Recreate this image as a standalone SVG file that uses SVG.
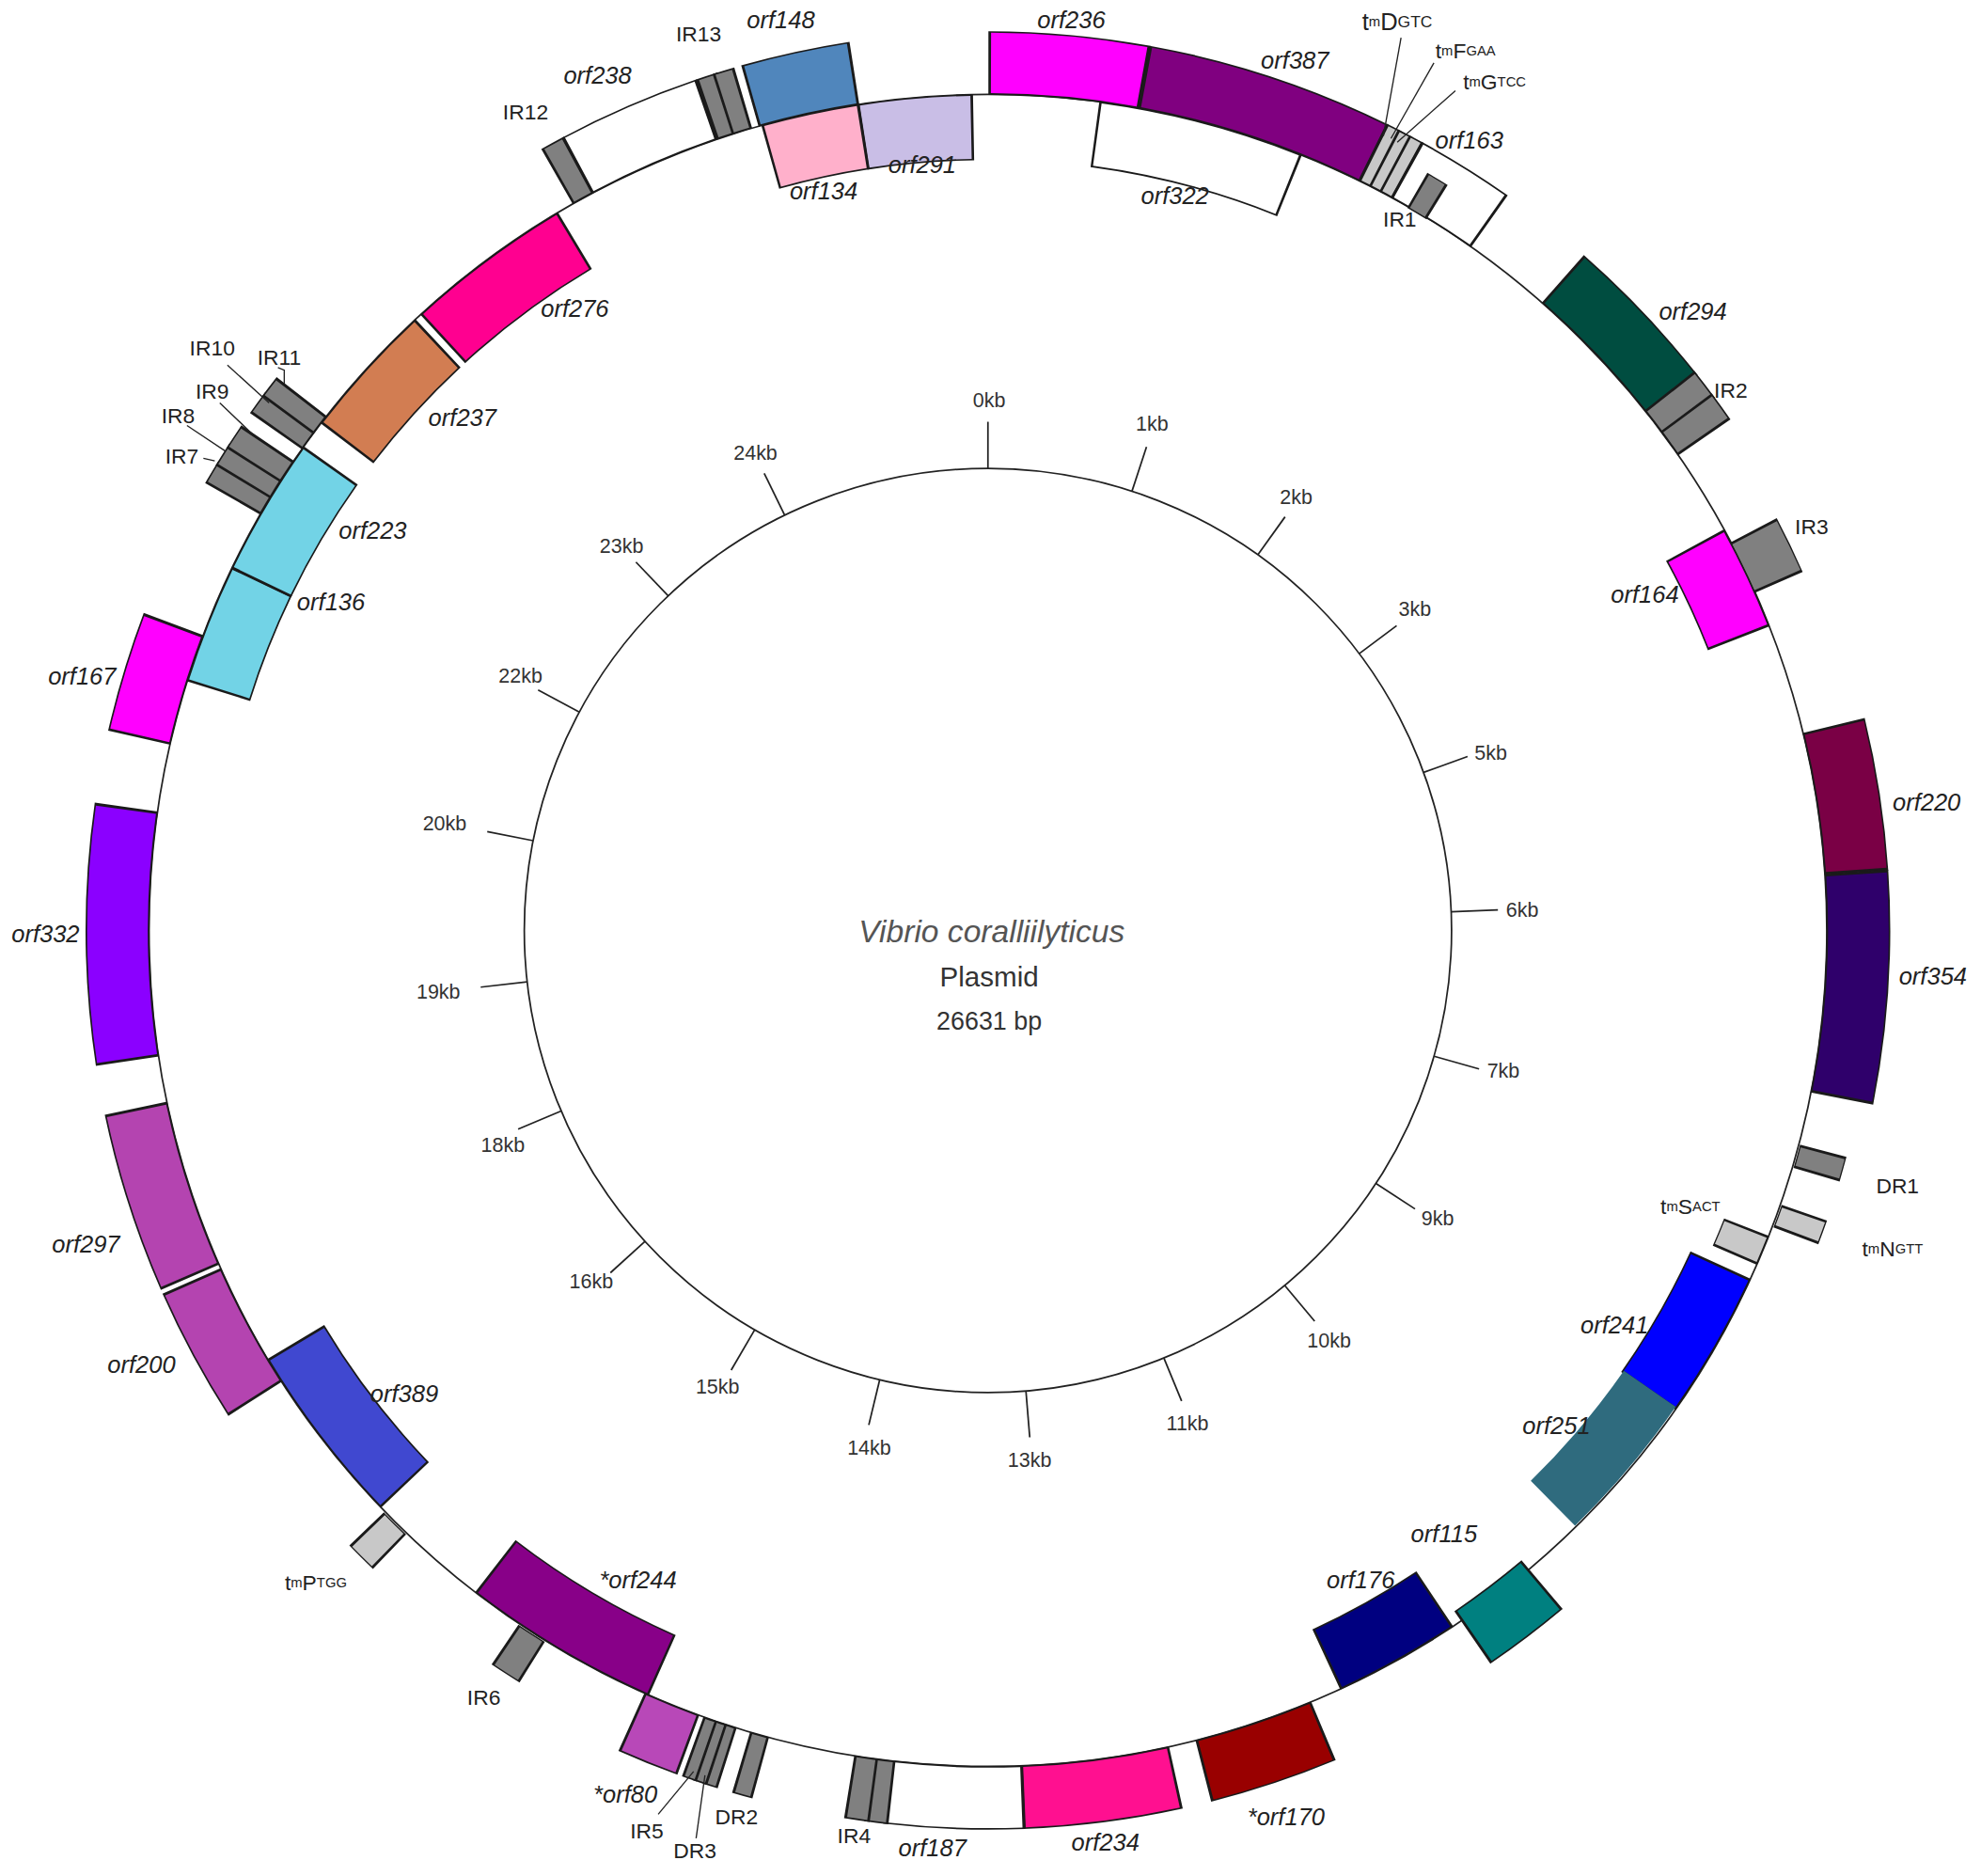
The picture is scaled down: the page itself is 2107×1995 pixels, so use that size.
<svg xmlns="http://www.w3.org/2000/svg" width="2107" height="1995" viewBox="0 0 2107 1995">
<style>
circle{fill:none}
.k{stroke:#1a1a1a}
.o{stroke-width:48}
.ok{stroke-width:50.5}
.i{stroke-width:50}
.ik{stroke-width:52.5}
.base{stroke:#222;stroke-width:1.3}
.tick{stroke:#222;stroke-width:1.3}
.lead{stroke:#222;stroke-width:1;fill:none}
.lab{font-family:"Liberation Sans",Arial,sans-serif;font-style:italic;font-size:19px;fill:#222;text-anchor:middle;dominant-baseline:central}
.ir{font-family:"Liberation Sans",Arial,sans-serif;font-size:17px;fill:#222;text-anchor:middle;dominant-baseline:central}
.kb{font-family:"Liberation Sans",Arial,sans-serif;font-size:16px;fill:#333;text-anchor:middle;dominant-baseline:central}
.sm{font-size:11px}
</style>
<rect width="2107" height="1995" fill="#fff"/>
<g transform="scale(1.3437,1.3389)">
<g transform="translate(782,739)">
<g id="backbone">
<circle class="base" r="664"/>
<circle class="base" r="367"/>
</g>
<g id="ticks">
<line class="tick" x1="0" y1="-367" x2="0" y2="-404"/>
<g transform="rotate(18.1)"><line class="tick" x1="0" y1="-367" x2="0" y2="-404"/></g>
<g transform="rotate(35.6)"><line class="tick" x1="0" y1="-367" x2="0" y2="-404"/></g>
<g transform="rotate(53.2)"><line class="tick" x1="0" y1="-367" x2="0" y2="-404"/></g>
<g transform="rotate(70)"><line class="tick" x1="0" y1="-367" x2="0" y2="-404"/></g>
<g transform="rotate(87.7)"><line class="tick" x1="0" y1="-367" x2="0" y2="-404"/></g>
<g transform="rotate(105.8)"><line class="tick" x1="0" y1="-367" x2="0" y2="-404"/></g>
<g transform="rotate(123.2)"><line class="tick" x1="0" y1="-367" x2="0" y2="-404"/></g>
<g transform="rotate(140.2)"><line class="tick" x1="0" y1="-367" x2="0" y2="-404"/></g>
<g transform="rotate(157.7)"><line class="tick" x1="0" y1="-367" x2="0" y2="-404"/></g>
<g transform="rotate(175.3)"><line class="tick" x1="0" y1="-367" x2="0" y2="-404"/></g>
<g transform="rotate(193.5)"><line class="tick" x1="0" y1="-367" x2="0" y2="-404"/></g>
<g transform="rotate(210.2)"><line class="tick" x1="0" y1="-367" x2="0" y2="-404"/></g>
<g transform="rotate(227.7)"><line class="tick" x1="0" y1="-367" x2="0" y2="-404"/></g>
<g transform="rotate(247)"><line class="tick" x1="0" y1="-367" x2="0" y2="-404"/></g>
<g transform="rotate(263.6)"><line class="tick" x1="0" y1="-367" x2="0" y2="-404"/></g>
<g transform="rotate(281.2)"><line class="tick" x1="0" y1="-367" x2="0" y2="-404"/></g>
<g transform="rotate(298.2)"><line class="tick" x1="0" y1="-367" x2="0" y2="-404"/></g>
<g transform="rotate(316.4)"><line class="tick" x1="0" y1="-367" x2="0" y2="-404"/></g>
<g transform="rotate(334)"><line class="tick" x1="0" y1="-367" x2="0" y2="-404"/></g>
</g>

<!-- outer features -->
<g id="orf236" transform="rotate(-89.8)"><circle class="k ok" r="689" pathLength="360" stroke-dasharray="10.35 400" transform="rotate(-0.17)"/><circle class="o" r="689" pathLength="360" stroke="#FF00FF" stroke-dasharray="10 400"/></g>
<g id="orf387" transform="rotate(-79.5)"><circle class="k ok" r="689" pathLength="360" stroke-dasharray="16.05 400" transform="rotate(-0.17)"/><circle class="o" r="689" pathLength="360" stroke="#800080" stroke-dasharray="15.7 400"/></g>
<g id="trnD" transform="rotate(-63.6)"><circle class="k ok" r="689" pathLength="360" stroke-dasharray="1.05 400" transform="rotate(-0.17)"/><circle class="o" r="689" pathLength="360" stroke="#C8C8C8" stroke-dasharray="0.7 400"/></g>
<g id="trnF" transform="rotate(-62.8)"><circle class="k ok" r="689" pathLength="360" stroke-dasharray="1.05 400" transform="rotate(-0.17)"/><circle class="o" r="689" pathLength="360" stroke="#C8C8C8" stroke-dasharray="0.7 400"/></g>
<g id="trnG" transform="rotate(-62)"><circle class="k ok" r="689" pathLength="360" stroke-dasharray="1.05 400" transform="rotate(-0.17)"/><circle class="o" r="689" pathLength="360" stroke="#C8C8C8" stroke-dasharray="0.7 400"/></g>
<g id="orf163" transform="rotate(-61.1)"><circle class="k ok" r="689" pathLength="360" stroke-dasharray="6.45 400" transform="rotate(-0.17)"/><circle class="o" r="689" pathLength="360" stroke="#FFFFFF" stroke-dasharray="6.1 400"/></g>
<g id="IR1" transform="rotate(-59.8)"><circle class="k ok" r="679" pathLength="360" stroke-dasharray="1.55 400" transform="rotate(-0.17)" style="stroke-width:32"/><circle r="679" pathLength="360" stroke="#808080" stroke-dasharray="1.2 400" style="stroke-width:30"/></g>
<g id="orf294" transform="rotate(-48.5)"><circle class="k ok" r="689" pathLength="360" stroke-dasharray="10.55 400" transform="rotate(-0.17)"/><circle class="o" r="689" pathLength="360" stroke="#004D40" stroke-dasharray="10.2 400"/></g>
<g id="IR2">
<g transform="rotate(-38.3)"><circle class="k ok" r="689" pathLength="360" stroke-dasharray="2.15 400" transform="rotate(-0.17)"/><circle class="o" r="689" pathLength="360" stroke="#808080" stroke-dasharray="1.8 400"/></g>
<g transform="rotate(-36.5)"><circle class="k ok" r="689" pathLength="360" stroke-dasharray="2.05 400" transform="rotate(-0.17)"/><circle class="o" r="689" pathLength="360" stroke="#808080" stroke-dasharray="1.7 400"/></g>
</g>
<g id="IR3" transform="rotate(-27.5)"><circle class="k ok" r="684" pathLength="360" stroke-dasharray="3.85 400" transform="rotate(-0.17)" style="stroke-width:42"/><circle r="684" pathLength="360" stroke="#808080" stroke-dasharray="3.5 400" style="stroke-width:40"/></g>
<g id="orf220" transform="rotate(-13.5)"><circle class="k ok" r="689" pathLength="360" stroke-dasharray="9.85 400" transform="rotate(-0.17)"/><circle class="o" r="689" pathLength="360" stroke="#7A0045" stroke-dasharray="9.5 400"/></g>
<g id="orf354" transform="rotate(-3.7)"><circle class="k ok" r="689" pathLength="360" stroke-dasharray="15.05 400" transform="rotate(-0.17)"/><circle class="o" r="689" pathLength="360" stroke="#2F006B" stroke-dasharray="14.7 400"/></g>
<g id="DR1" transform="rotate(15)"><circle class="k ok" r="684" pathLength="360" stroke-dasharray="1.65 400" transform="rotate(-0.17)" style="stroke-width:38"/><circle r="684" pathLength="360" stroke="#808080" stroke-dasharray="1.3 400" style="stroke-width:36"/></g>
<g id="trnN" transform="rotate(19.3)"><circle class="k ok" r="684" pathLength="360" stroke-dasharray="1.65 400" transform="rotate(-0.17)" style="stroke-width:38"/><circle r="684" pathLength="360" stroke="#C8C8C8" stroke-dasharray="1.3 400" style="stroke-width:36"/></g>
<g id="orf115" transform="rotate(50)"><circle class="k ok" r="680" pathLength="360" stroke-dasharray="5.85 400" transform="rotate(-0.17)"/><circle class="o" r="680" pathLength="360" stroke="#008080" stroke-dasharray="5.5 400"/></g>
<g id="orf170" transform="rotate(67.5)"><circle class="k ok" r="689" pathLength="360" stroke-dasharray="8.35 400" transform="rotate(-0.17)"/><circle class="o" r="689" pathLength="360" stroke="#990000" stroke-dasharray="8 400"/></g>
<g id="orf234" transform="rotate(77.7)"><circle class="k ok" r="689" pathLength="360" stroke-dasharray="10.25 400" transform="rotate(-0.17)"/><circle class="o" r="689" pathLength="360" stroke="#FF1090" stroke-dasharray="9.9 400"/></g>
<g id="orf187" transform="rotate(87.8)"><circle class="k ok" r="689" pathLength="360" stroke-dasharray="9.05 400" transform="rotate(-0.17)"/><circle class="o" r="689" pathLength="360" stroke="#FFFFFF" stroke-dasharray="8.7 400"/></g>
<g id="IR4">
<g transform="rotate(96.5)"><circle class="k ok" r="689" pathLength="360" stroke-dasharray="1.55 400" transform="rotate(-0.17)"/><circle class="o" r="689" pathLength="360" stroke="#808080" stroke-dasharray="1.2 400"/></g>
<g transform="rotate(97.7)"><circle class="k ok" r="689" pathLength="360" stroke-dasharray="1.65 400" transform="rotate(-0.17)"/><circle class="o" r="689" pathLength="360" stroke="#808080" stroke-dasharray="1.3 400"/></g>
</g>
<g id="DR2" transform="rotate(105.3)"><circle class="k ok" r="689" pathLength="360" stroke-dasharray="1.35 400" transform="rotate(-0.17)"/><circle class="o" r="689" pathLength="360" stroke="#808080" stroke-dasharray="1.0 400"/></g>
<g id="IR5">
<g transform="rotate(107.6)"><circle class="k ok" r="689" pathLength="360" stroke-dasharray="1.0 400" transform="rotate(-0.17)"/><circle class="o" r="689" pathLength="360" stroke="#808080" stroke-dasharray="0.66 400"/></g>
<g transform="rotate(108.3)"><circle class="k ok" r="689" pathLength="360" stroke-dasharray="1.0 400" transform="rotate(-0.17)"/><circle class="o" r="689" pathLength="360" stroke="#808080" stroke-dasharray="0.66 400"/></g>
</g>
<g id="DR3" transform="rotate(109)"><circle class="k ok" r="689" pathLength="360" stroke-dasharray="1.0 400" transform="rotate(-0.17)"/><circle class="o" r="689" pathLength="360" stroke="#808080" stroke-dasharray="0.66 400"/></g>
<g id="orf80" transform="rotate(110.3)"><circle class="k ok" r="689" pathLength="360" stroke-dasharray="4.05 400" transform="rotate(-0.17)"/><circle class="o" r="689" pathLength="360" stroke="#B848B8" stroke-dasharray="3.7 400"/></g>
<g id="IR6" transform="rotate(122)"><circle class="k ok" r="684" pathLength="360" stroke-dasharray="2.15 400" transform="rotate(-0.17)" style="stroke-width:38"/><circle r="684" pathLength="360" stroke="#808080" stroke-dasharray="1.8 400" style="stroke-width:36"/></g>
<g id="trnP" transform="rotate(134)"><circle class="k ok" r="684" pathLength="360" stroke-dasharray="2.15 400" transform="rotate(-0.17)" style="stroke-width:38"/><circle r="684" pathLength="360" stroke="#C8C8C8" stroke-dasharray="1.8 400" style="stroke-width:36"/></g>
<g id="orf200" transform="rotate(147.5)"><circle class="k ok" r="689" pathLength="360" stroke-dasharray="8.85 400" transform="rotate(-0.17)"/><circle class="o" r="689" pathLength="360" stroke="#B444B0" stroke-dasharray="8.5 400"/></g>
<g id="orf297" transform="rotate(156.6)"><circle class="k ok" r="689" pathLength="360" stroke-dasharray="11.75 400" transform="rotate(-0.17)"/><circle class="o" r="689" pathLength="360" stroke="#B444B0" stroke-dasharray="11.4 400"/></g>
<g id="orf332" transform="rotate(171.5)"><circle class="k ok" r="689" pathLength="360" stroke-dasharray="16.85 400" transform="rotate(-0.17)"/><circle class="o" r="689" pathLength="360" stroke="#8B00FF" stroke-dasharray="16.5 400"/></g>
<g id="orf167" transform="rotate(193)"><circle class="k ok" r="689" pathLength="360" stroke-dasharray="7.85 400" transform="rotate(-0.17)"/><circle class="o" r="689" pathLength="360" stroke="#FF00FF" stroke-dasharray="7.5 400"/></g>
<g id="IR7" transform="rotate(210)"><circle class="k ok" r="689" pathLength="360" stroke-dasharray="1.65 400" transform="rotate(-0.17)"/><circle class="o" r="689" pathLength="360" stroke="#808080" stroke-dasharray="1.3 400"/></g>
<g id="IR8" transform="rotate(211.3)"><circle class="k ok" r="689" pathLength="360" stroke-dasharray="1.65 400" transform="rotate(-0.17)"/><circle class="o" r="689" pathLength="360" stroke="#808080" stroke-dasharray="1.3 400"/></g>
<g id="IR9" transform="rotate(212.6)"><circle class="k ok" r="689" pathLength="360" stroke-dasharray="1.75 400" transform="rotate(-0.17)"/><circle class="o" r="689" pathLength="360" stroke="#808080" stroke-dasharray="1.4 400"/></g>
<g id="IR10" transform="rotate(215.3)"><circle class="k ok" r="689" pathLength="360" stroke-dasharray="1.65 400" transform="rotate(-0.17)"/><circle class="o" r="689" pathLength="360" stroke="#808080" stroke-dasharray="1.3 400"/></g>
<g id="IR11" transform="rotate(216.6)"><circle class="k ok" r="689" pathLength="360" stroke-dasharray="1.55 400" transform="rotate(-0.17)"/><circle class="o" r="689" pathLength="360" stroke="#808080" stroke-dasharray="1.2 400"/></g>
<g id="IR12" transform="rotate(240.5)"><circle class="k ok" r="689" pathLength="360" stroke-dasharray="1.65 400" transform="rotate(-0.17)"/><circle class="o" r="689" pathLength="360" stroke="#808080" stroke-dasharray="1.3 400"/></g>
<g id="orf238" transform="rotate(242)"><circle class="k ok" r="689" pathLength="360" stroke-dasharray="9.35 400" transform="rotate(-0.17)"/><circle class="o" r="689" pathLength="360" stroke="#FFFFFF" stroke-dasharray="9 400"/></g>
<g id="IR13">
<g transform="rotate(251.3)"><circle class="k ok" r="689" pathLength="360" stroke-dasharray="1.45 400" transform="rotate(-0.17)"/><circle class="o" r="689" pathLength="360" stroke="#808080" stroke-dasharray="1.1 400"/></g>
<g transform="rotate(252.4)"><circle class="k ok" r="689" pathLength="360" stroke-dasharray="1.45 400" transform="rotate(-0.17)"/><circle class="o" r="689" pathLength="360" stroke="#808080" stroke-dasharray="1.1 400"/></g>
</g>
<g id="orf148" transform="rotate(254.3)"><circle class="k ok" r="689" pathLength="360" stroke-dasharray="7.05 400" transform="rotate(-0.17)"/><circle class="o" r="689" pathLength="360" stroke="#5086BC" stroke-dasharray="6.7 400"/></g>

<!-- inner features -->
<g id="orf291" transform="rotate(261.2)"><circle class="k ik" r="638" pathLength="360" stroke-dasharray="7.95 400" transform="rotate(-0.17)"/><circle class="i" r="638" pathLength="360" stroke="#C9BEE6" stroke-dasharray="7.6 400"/></g>
<g id="orf134" transform="rotate(254.5)"><circle class="k ik" r="638" pathLength="360" stroke-dasharray="6.85 400" transform="rotate(-0.17)"/><circle class="i" r="638" pathLength="360" stroke="#FFB0CB" stroke-dasharray="6.5 400"/></g>
<g id="orf322" transform="rotate(-82.2)"><circle class="k ik" r="638" pathLength="360" stroke-dasharray="14.35 400" transform="rotate(-0.17)"/><circle class="i" r="638" pathLength="360" stroke="#FFFFFF" stroke-dasharray="14 400"/></g>
<g id="orf164" transform="rotate(-28.5)"><circle class="k ik" r="638" pathLength="360" stroke-dasharray="7.35 400" transform="rotate(-0.17)"/><circle class="i" r="638" pathLength="360" stroke="#FF00FF" stroke-dasharray="7 400"/></g>
<g id="trnS" transform="rotate(21.6)"><circle class="k ik" r="645" pathLength="360" stroke-dasharray="2.15 400" transform="rotate(-0.17)" style="stroke-width:38"/><circle r="645" pathLength="360" stroke="#C8C8C8" stroke-dasharray="1.8 400" style="stroke-width:36"/></g>
<g id="orf241" transform="rotate(24.8)"><circle class="k ik" r="638" pathLength="360" stroke-dasharray="10.35 400" transform="rotate(-0.17)"/><circle class="i" r="638" pathLength="360" stroke="#0000FF" stroke-dasharray="10 400"/></g>
<g id="orf251" transform="rotate(34.8)"><circle class="i" r="638" pathLength="360" stroke="#2F6B7E" stroke-dasharray="10.7 400"/></g>
<g id="orf176" transform="rotate(56.5)"><circle class="k ik" r="638" pathLength="360" stroke-dasharray="8.85 400" transform="rotate(-0.17)"/><circle class="i" r="638" pathLength="360" stroke="#000080" stroke-dasharray="8.5 400"/></g>
<g id="orf244" transform="rotate(114)"><circle class="k ik" r="638" pathLength="360" stroke-dasharray="13.85 400" transform="rotate(-0.17)"/><circle class="i" r="638" pathLength="360" stroke="#880088" stroke-dasharray="13.5 400"/></g>
<g id="orf389" transform="rotate(136.5)"><circle class="k ik" r="638" pathLength="360" stroke-dasharray="12.85 400" transform="rotate(-0.17)"/><circle class="i" r="638" pathLength="360" stroke="#4048D0" stroke-dasharray="12.5 400"/></g>
<g id="orf136" transform="rotate(197.5)"><circle class="k ik" r="638" pathLength="360" stroke-dasharray="8.45 400" transform="rotate(-0.17)"/><circle class="i" r="638" pathLength="360" stroke="#72D3E6" stroke-dasharray="8.1 400"/></g>
<g id="orf223" transform="rotate(205.8)"><circle class="k ik" r="638" pathLength="360" stroke-dasharray="9.75 400" transform="rotate(-0.17)"/><circle class="i" r="638" pathLength="360" stroke="#72D3E6" stroke-dasharray="9.4 400"/></g>
<g id="orf237" transform="rotate(217.5)"><circle class="k ik" r="638" pathLength="360" stroke-dasharray="9.65 400" transform="rotate(-0.17)"/><circle class="i" r="638" pathLength="360" stroke="#D27D52" stroke-dasharray="9.3 400"/></g>
<g id="orf276" transform="rotate(227.6)"><circle class="k ik" r="638" pathLength="360" stroke-dasharray="11.75 400" transform="rotate(-0.17)"/><circle class="i" r="638" pathLength="360" stroke="#FF0090" stroke-dasharray="11.4 400"/></g>
</g>

<g id="connectors">
<line class="lead" x1="1109" y1="30" x2="1095" y2="108"/>
<line class="lead" x1="1135" y1="50" x2="1101" y2="110"/>
<line class="lead" x1="1152" y1="72" x2="1106" y2="113"/>
<line class="lead" x1="180" y1="290" x2="213" y2="320"/>
<polyline class="lead" points="220,292 225,294 225,305"/>
<line class="lead" x1="174" y1="320" x2="200" y2="345"/>
<line class="lead" x1="148" y1="338" x2="178" y2="358"/>
<line class="lead" x1="161" y1="364" x2="170" y2="366"/>
<line class="lead" x1="521" y1="1441" x2="549" y2="1407"/>
<line class="lead" x1="551" y1="1460" x2="558" y2="1410"/>
</g>

<g id="kb-labels">
<text class="kb" x="783" y="318">0kb</text>
<text class="kb" x="912" y="337">1kb</text>
<text class="kb" x="1026" y="395">2kb</text>
<text class="kb" x="1120" y="484">3kb</text>
<text class="kb" x="1180" y="598">5kb</text>
<text class="kb" x="1205" y="723">6kb</text>
<text class="kb" x="1190" y="851">7kb</text>
<text class="kb" x="1138" y="968">9kb</text>
<text class="kb" x="1052" y="1065">10kb</text>
<text class="kb" x="940" y="1131">11kb</text>
<text class="kb" x="815" y="1160">13kb</text>
<text class="kb" x="688" y="1150">14kb</text>
<text class="kb" x="568" y="1102">15kb</text>
<text class="kb" x="468" y="1018">16kb</text>
<text class="kb" x="398" y="910">18kb</text>
<text class="kb" x="347" y="788">19kb</text>
<text class="kb" x="352" y="654">20kb</text>
<text class="kb" x="412" y="537">22kb</text>
<text class="kb" x="492" y="434">23kb</text>
<text class="kb" x="598" y="360">24kb</text>
</g>

<g id="title">
<text x="785" y="740" style="font-family:'Liberation Sans',Arial,sans-serif;font-style:italic;font-size:25px;fill:#555;text-anchor:middle;dominant-baseline:central">Vibrio coralliilyticus</text>
<text x="783" y="776" style="font-family:'Liberation Sans',Arial,sans-serif;font-size:22px;fill:#333;text-anchor:middle;dominant-baseline:central">Plasmid</text>
<text x="783" y="811" style="font-family:'Liberation Sans',Arial,sans-serif;font-size:20px;fill:#333;text-anchor:middle;dominant-baseline:central">26631 bp</text>
</g>

<g id="feature-labels">
<text class="lab" x="848" y="16">orf236</text>
<text class="lab" x="1025" y="48">orf387</text>
<text class="lab" x="1163" y="111">orf163</text>
<text class="lab" x="930" y="155">orf322</text>
<text class="lab" x="1340" y="247">orf294</text>
<text class="lab" x="1302" y="472">orf164</text>
<text class="lab" x="1525" y="637">orf220</text>
<text class="lab" x="1530" y="775">orf354</text>
<text class="lab" x="1278" y="1052">orf241</text>
<text class="lab" x="1232" y="1132">orf251</text>
<text class="lab" x="1143" y="1218">orf115</text>
<text class="lab" x="1077" y="1255">orf176</text>
<text class="lab" x="1018" y="1443">*orf170</text>
<text class="lab" x="875" y="1463">orf234</text>
<text class="lab" x="738" y="1468">orf187</text>
<text class="lab" x="495" y="1425">*orf80</text>
<text class="lab" x="505" y="1255">*orf244</text>
<text class="lab" x="320" y="1107">orf389</text>
<text class="lab" x="112" y="1084">orf200</text>
<text class="lab" x="68" y="988">orf297</text>
<text class="lab" x="36" y="742">orf332</text>
<text class="lab" x="65" y="537">orf167</text>
<text class="lab" x="262" y="478">orf136</text>
<text class="lab" x="295" y="421">orf223</text>
<text class="lab" x="366" y="332">orf237</text>
<text class="lab" x="455" y="245">orf276</text>
<text class="lab" x="473" y="60">orf238</text>
<text class="lab" x="618" y="16">orf148</text>
<text class="lab" x="652" y="152">orf134</text>
<text class="lab" x="730" y="131">orf291</text>

<text class="ir" x="553" y="27">IR13</text>
<text class="ir" x="416" y="89">IR12</text>
<text class="ir" x="1108" y="174">IR1</text>
<text class="ir" x="1370" y="310">IR2</text>
<text class="ir" x="1434" y="418">IR3</text>
<text class="ir" x="1502" y="942">DR1</text>
<text class="ir" x="168" y="276">IR10</text>
<text class="ir" x="221" y="284">IR11</text>
<text class="ir" x="168" y="311">IR9</text>
<text class="ir" x="141" y="330">IR8</text>
<text class="ir" x="144" y="362">IR7</text>
<text class="ir" x="383" y="1348">IR6</text>
<text class="ir" x="512" y="1454">IR5</text>
<text class="ir" x="550" y="1470">DR3</text>
<text class="ir" x="583" y="1443">DR2</text>
<text class="ir" x="676" y="1458">IR4</text>

<text class="ir" x="1106" y="17" style="font-size:19px">t<tspan class="sm">m</tspan>D<tspan class="sm" style="font-size:13px">GTC</tspan></text>
<text class="ir" x="1160" y="40">t<tspan class="sm">m</tspan>F<tspan class="sm">GAA</tspan></text>
<text class="ir" x="1183" y="65">t<tspan class="sm">m</tspan>G<tspan class="sm">TCC</tspan></text>
<text class="ir" x="1338" y="958">t<tspan class="sm">m</tspan>S<tspan class="sm">ACT</tspan></text>
<text class="ir" x="1498" y="992">t<tspan class="sm">m</tspan>N<tspan class="sm">GTT</tspan></text>
<text class="ir" x="250" y="1257">t<tspan class="sm">m</tspan>P<tspan class="sm">TGG</tspan></text>
</g>
</g>
</svg>
